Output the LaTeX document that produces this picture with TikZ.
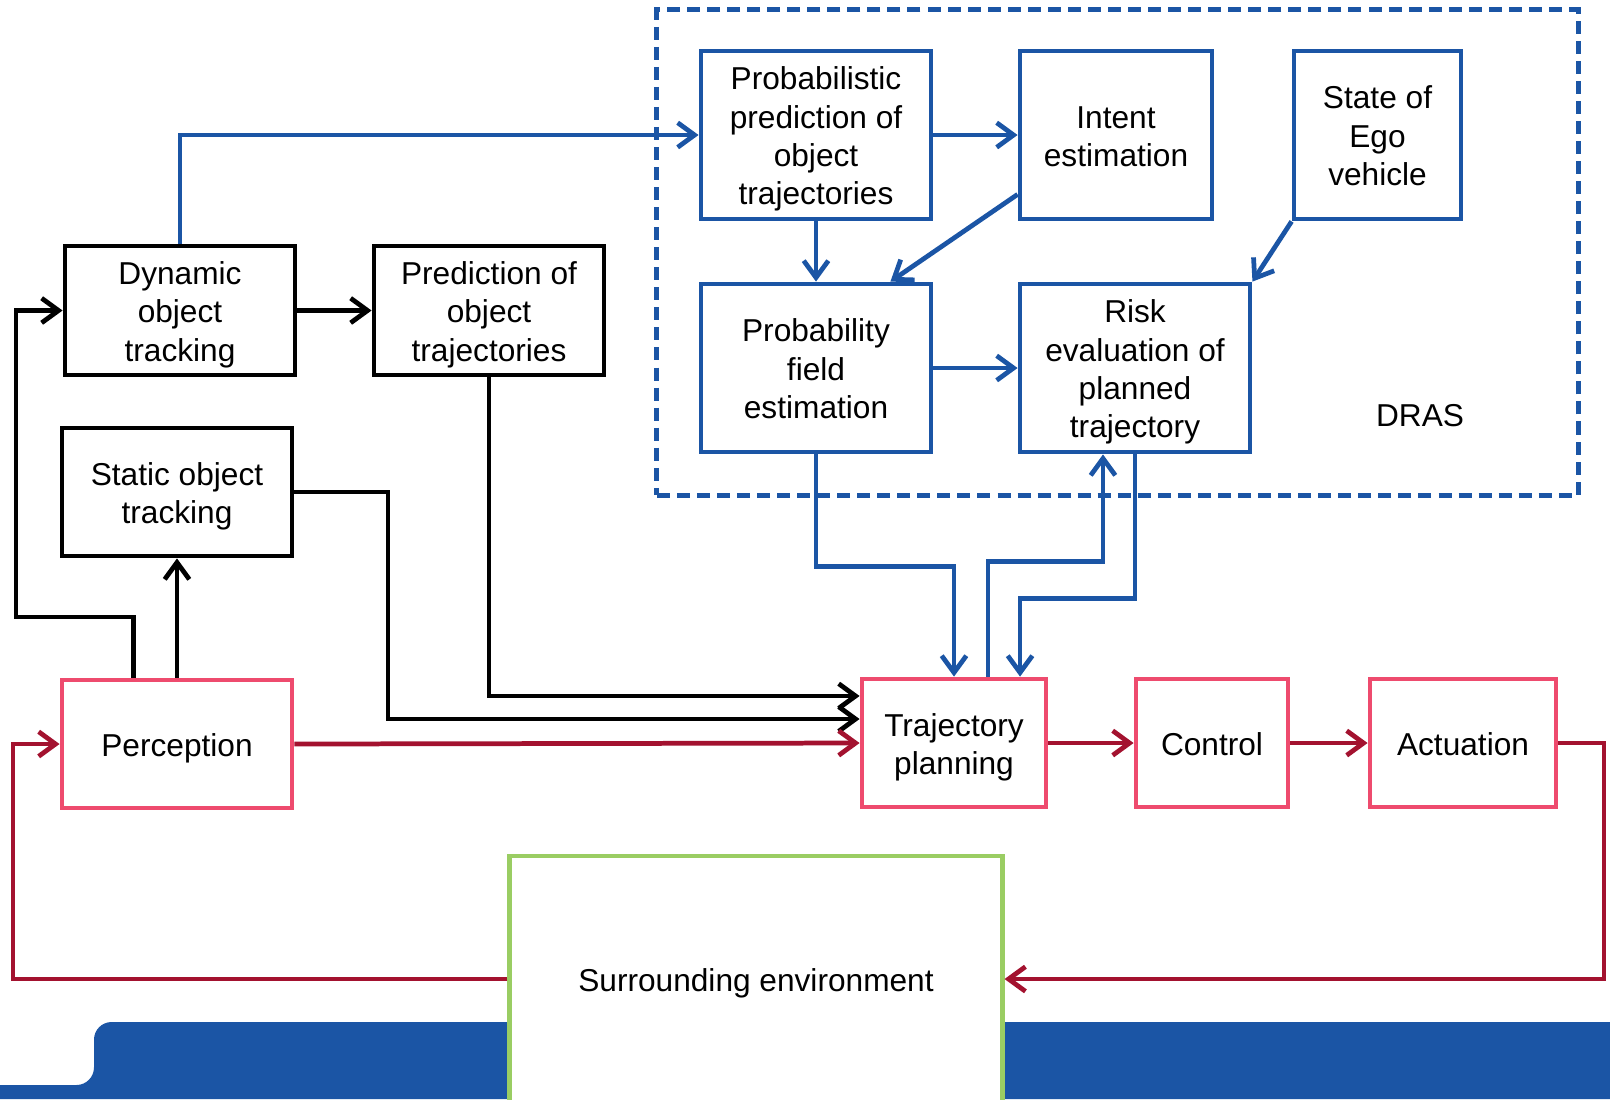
\documentclass[tikz,border=0pt]{standalone}
\usepackage{fontspec}
\setmainfont{Liberation Sans}
\usepackage{tikz}
\usetikzlibrary{arrows.meta}
\definecolor{drasblue}{RGB}{27,85,165}
\definecolor{boxpink}{RGB}{238,75,110}
\definecolor{loopred}{RGB}{163,18,47}
\definecolor{envgreen}{RGB}{154,205,99}
% line box as in the slide: fixed ascent and descent
\newcommand\ls{\rule[-1.9pt]{0pt}{10.8pt}}
\tikzset{
  base box/.style={rectangle,draw,line width=1.35pt,fill=white,align=center,inner sep=0pt,
    font=\fontsize{9}{10.9}\selectfont,execute at end node=\ls},
  blue box/.style={base box,draw=drasblue},
  black box/.style={base box,draw=black},
  pink box/.style={base box,draw=boxpink},
  env box/.style={base box,draw=envgreen},
  blue line/.style={draw=drasblue,line width=1.35pt},
  black line/.style={draw=black,line width=1.35pt},
  red line/.style={draw=loopred,line width=1.35pt}
}

\begin{document}
\begin{tikzpicture}[x=0.01cm,y=-0.01cm,->,>={Straight Barb[length=4.8pt,width=7pt]}]
    \useasboundingbox (0,0) rectangle (1610,1099);
    % band at the bottom
    \fill[drasblue] (0,1099) -- (0,1085) [rounded corners=5pt] -- (94,1085) -- (94,1022) -- (300,1022)
      [sharp corners] -- (1610,1022) -- (1610,1099) -- cycle;

    % DRAS frame
    \node [draw=drasblue,line width=1.35pt,dash pattern=on 3.7pt off 2pt,minimum width=9.21cm,minimum height=4.85cm,inner sep=0pt] (dras) at (1117.5,252.5) {};
    \node [font=\fontsize{9}{10.9}\selectfont] (draslabel) at (1420,416) {DRAS};

    \node [blue box,minimum width=2.3cm,minimum height=1.68cm] (probpred) at (816,135) {\ls Probabilistic\\prediction of\\object\\trajectories};
    \node [blue box,minimum width=1.92cm,minimum height=1.68cm] (intent) at (1116,135) {\ls Intent\\estimation};
    \node [blue box,minimum width=1.67cm,minimum height=1.68cm] (ego) at (1377.5,135) {\ls State of\\Ego\\vehicle};
    \node [blue box,minimum width=2.3cm,minimum height=1.68cm] (field) at (816,368) {\ls Probability\\field\\estimation};
    \node [blue box,minimum width=2.3cm,minimum height=1.68cm] (risk) at (1135,368) {\ls Risk\\evaluation of\\planned\\trajectory};

    \node [black box,minimum width=2.3cm,minimum height=1.29cm] (dyntrack) at (180,310.5) {\ls Dynamic\\object\\tracking};
    \node [black box,minimum width=2.3cm,minimum height=1.29cm] (predtraj) at (489,310.5) {\ls Prediction of\\object\\trajectories};
    \node [black box,minimum width=2.3cm,minimum height=1.28cm] (stattrack) at (177,492) {\ls Static object\\tracking};

    \node [pink box,minimum width=2.3cm,minimum height=1.28cm] (percep) at (177,744) {\ls Perception};
    \node [pink box,minimum width=1.84cm,minimum height=1.28cm] (plan) at (954,743) {\ls Trajectory\\planning};
    \node [pink box,minimum width=1.52cm,minimum height=1.28cm] (control) at (1212,743) {\ls Control};
    \node [pink box,minimum width=1.86cm,minimum height=1.28cm] (actuat) at (1463,743) {\ls Actuation};
    \node [env box,minimum width=4.92cm,minimum height=2.46cm] (env) at (756,979) {\ls Surrounding environment};

    % DRAS connections
    \draw [blue line] (dyntrack.north) |- (probpred.west);
    \draw [blue line] (probpred.east) -- (intent.west);
    \draw [blue line] (probpred.south) -- (field.north);
    \draw [blue line] ([yshift=0.27cm]intent.south west) -- ([xshift=-0.43cm]field.north east);
    \draw [blue line] (ego.south west) -- (risk.north east);
    \draw [blue line] (field.east) -- (risk.west);
    \draw [blue line] (field.south) -- ++(0,112) -| (plan.north);
    \draw [blue line] ([xshift=0.34cm]plan.north) -- ++(0,-115) -| ([xshift=-0.32cm]risk.south);
    \draw [blue line] (risk.south) -- ++(0,144) -| ([xshift=0.66cm]plan.north);

    % tracking
    \draw [black line] (dyntrack.east) -- (predtraj.west);
    \draw [black line] ([xshift=-0.435cm]percep.north) |- (16,617) |- (dyntrack.west);
    \draw [black line] (percep.north) -- (stattrack.south);
    \draw [black line] (stattrack.east) -- (388,492) |- ([yshift=0.24cm]plan.west);
    \draw [black line] (predtraj.south) |- ([yshift=0.47cm]plan.west);

    % main loop
    \draw [red line] (percep.east) -- (plan.west);
    \draw [red line] (plan.east) -- (control.west);
    \draw [red line] (control.east) -- (actuat.west);
    \draw [red line] (actuat.east) -| (1604,979) -- (env.east);
    \draw [red line] (env.west) -| (13,744) -- (percep.west);
\end{tikzpicture}
\end{document}
